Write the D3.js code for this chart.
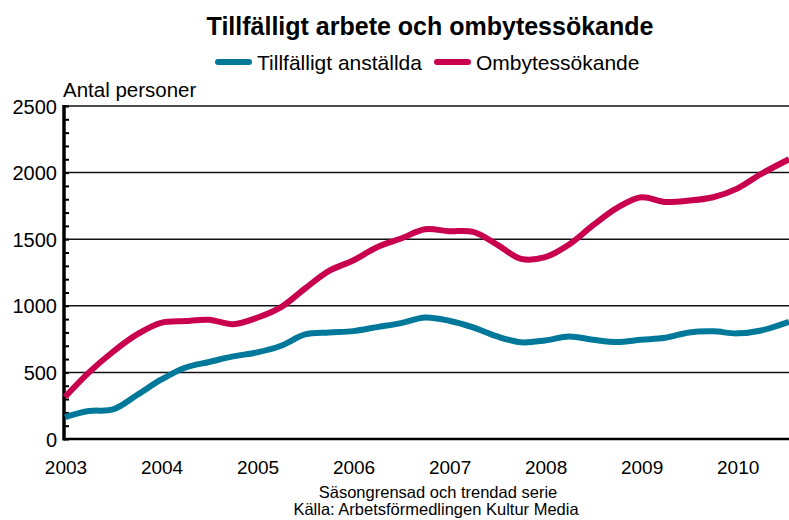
<!DOCTYPE html>
<html>
<head>
<meta charset="utf-8">
<script src="https://cdn.jsdelivr.net/npm/d3@7"></script>
<style>
  body { margin: 0; background: #fff; }
  text { font-family: "Liberation Sans", Arial, sans-serif; fill: #000; }
</style>
</head>
<body>
<div id="chart-area"></div>
<script>
// tidpunkter (decimalår) och serier
var tider = [2003.00, 2003.25, 2003.50, 2003.75, 2004.00, 2004.25, 2004.50, 2004.75,
             2005.00, 2005.25, 2005.50, 2005.75, 2006.00, 2006.25, 2006.50, 2006.75,
             2007.00, 2007.25, 2007.50, 2007.75, 2008.00, 2008.25, 2008.50, 2008.75,
             2009.00, 2009.25, 2009.50, 2009.75, 2010.00, 2010.25, 2010.54];
var tillfalliga = [165, 210, 222, 330, 445, 535, 578, 620,
                   650, 700, 785, 800, 810, 840, 870, 912,
                   888, 838, 770, 726, 740, 770, 745, 728,
                   745, 760, 800, 808, 793, 815, 880];
var ombytes = [315, 500, 655, 785, 872, 885, 895, 862,
               910, 990, 1130, 1262, 1340, 1440, 1505, 1575,
               1560, 1555, 1460, 1352, 1365, 1460, 1605, 1735,
               1815, 1780, 1790, 1815, 1880, 1990, 2100];
var serieNamn = ["Tillfälligt anställda", "Ombytessökande"];
var serieFarg = ["#00789a", "#c8004e"];
var arTicks = [2003, 2004, 2005, 2006, 2007, 2008, 2009, 2010];
var yTicks = [0, 500, 1000, 1500, 2000, 2500];

var W = 789, H = 520;
var mLeft = 65, mRight = 789, mTop = 106, mBottom = 439;

var svg = d3.select('#chart-area').append('svg')
    .attr('width', W)
    .attr('height', H);

var x = d3.scaleLinear().domain([2003, 2010.54]).range([mLeft, mRight]);
var y = d3.scaleLinear().domain([0, 2500]).range([mBottom, mTop]);

// titel
svg.append('text')
    .attr('x', 430).attr('y', 35)
    .attr('text-anchor', 'middle')
    .attr('font-size', 25).attr('font-weight', 'bold')
    .text('Tillfälligt arbete och ombytessökande');

// legend
var legX = [218, 437];
serieNamn.forEach(function(n, i){
    svg.append('line')
        .attr('x1', legX[i]).attr('x2', legX[i] + 31)
        .attr('y1', 62).attr('y2', 62)
        .attr('stroke', serieFarg[i]).attr('stroke-width', 6)
        .attr('stroke-linecap', 'round');
    svg.append('text')
        .attr('x', legX[i] + 39).attr('y', 70)
        .attr('font-size', 21)
        .text(n);
});

// rutnät
svg.append('g').selectAll('line')
    .data(yTicks.slice(1))
    .enter().append('line')
        .attr('x1', mLeft).attr('x2', mRight)
        .attr('y1', function(d){ return y(d); })
        .attr('y2', function(d){ return y(d); })
        .attr('stroke', '#111').attr('stroke-width', 1.5);

// y-axel med småstreck var 100:e
var axisY = d3.axisRight(y)
    .tickValues(d3.range(0, 2501, 100))
    .tickSize(5)
    .tickFormat('');
var gy = svg.append('g')
    .attr('transform', 'translate(' + (mLeft - 1) + ',0)')
    .call(axisY);
gy.select('.domain').remove();
gy.selectAll('.tick line').attr('stroke', '#000').attr('stroke-width', 2);
svg.append('line')
    .attr('x1', mLeft - 1).attr('x2', mLeft - 1)
    .attr('y1', mTop - 1).attr('y2', mBottom + 1.5)
    .attr('stroke', '#000').attr('stroke-width', 3.5);

svg.append('g').selectAll('text')
    .data(yTicks)
    .enter().append('text')
        .attr('x', 57)
        .attr('y', function(d){ return y(d); })
        .attr('dy', '0.38em')
        .attr('text-anchor', 'end')
        .attr('font-size', 20)
        .text(function(d){ return d; });

svg.append('text')
    .attr('x', 63).attr('y', 97)
    .attr('font-size', 20.5)
    .text('Antal personer');

// x-axel
svg.append('line')
    .attr('x1', mLeft - 1).attr('x2', mRight)
    .attr('y1', mBottom).attr('y2', mBottom)
    .attr('stroke', '#000').attr('stroke-width', 2.5);

svg.append('g').selectAll('text')
    .data(arTicks)
    .enter().append('text')
        .attr('x', function(d){ return x(d) + 1; })
        .attr('y', 474)
        .attr('text-anchor', 'middle')
        .attr('font-size', 19)
        .text(function(d){ return d; });

// linjer
var line = d3.line()
    .x(function(d){ return x(d[0]); })
    .y(function(d){ return y(d[1]); })
    .curve(d3.curveCatmullRom);

[tillfalliga, ombytes].forEach(function(v, i){
    svg.append('path')
        .datum(d3.zip(tider, v))
        .attr('d', line)
        .attr('fill', 'none')
        .attr('stroke', serieFarg[i])
        .attr('stroke-width', 6)
        .attr('stroke-linejoin', 'round');
});

// källa
svg.append('text')
    .attr('x', 438).attr('y', 498)
    .attr('text-anchor', 'middle')
    .attr('font-size', 16.5)
    .text('Säsongrensad och trendad serie');
svg.append('text')
    .attr('x', 436).attr('y', 515)
    .attr('text-anchor', 'middle')
    .attr('font-size', 16.5)
    .text('Källa: Arbetsförmedlingen Kultur Media');
</script>
</body>
</html>
